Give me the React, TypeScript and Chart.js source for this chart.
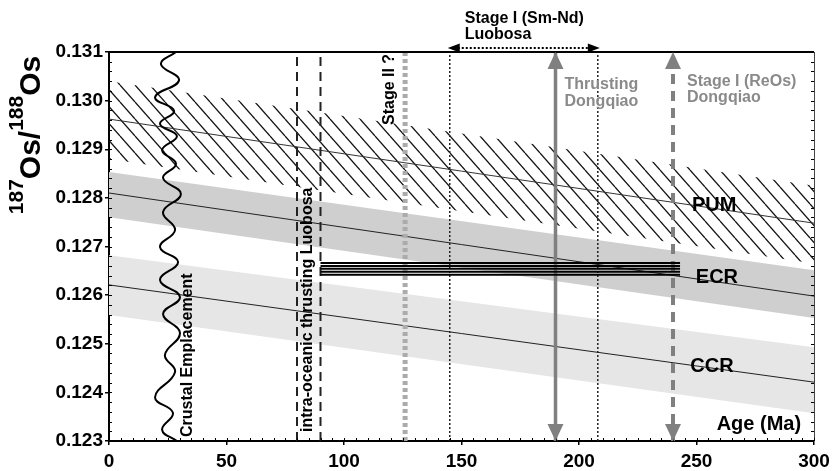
import React, { useEffect, useRef } from 'react';
import { Chart, registerables } from 'chart.js';

Chart.register(...registerables);

// ---------- data ----------
const ages = [0, 300];
const pumUpper = [0.1304, 0.12825];
const pumLower = [0.1288, 0.12665];
const pumCenter = [0.12962, 0.12748];
const ecrUpper = [0.12853, 0.12651];
const ecrLower = [0.1276, 0.12553];
const ecrCenter = [0.1281, 0.12598];
const ccrUpper = [0.12682, 0.12493];
const ccrLower = [0.12559, 0.12357];
const ccrCenter = [0.12621, 0.12421];

// Crustal emplacement wavy line (turning points)
const waveAge = [28.5, 22.1, 29.8, 19.6, 27.7, 21.7, 28.9, 22.6, 28.5, 23.0, 30.6, 23.0, 28.1, 21.7, 29.4, 21.7, 30.2, 23.0, 30.2, 23.8, 28.1, 19.6, 27.2, 22.6, 28.9];
const waveOs = [0.131, 0.13075, 0.13042, 0.13007, 0.12979, 0.12952, 0.12927, 0.12898, 0.1287, 0.12841, 0.12808, 0.12771, 0.12734, 0.12699, 0.12668, 0.12631, 0.12596, 0.12561, 0.12522, 0.12477, 0.12442, 0.1239, 0.12358, 0.12323, 0.123];

// Measured Os ratio bars
const barAges = [90, 243];
const barOs = [0.12666, 0.1266, 0.12654, 0.12648, 0.12642];

// Event ages
const intraOceanicAges = [80, 90];
const stageIIAge = 126;
const smNdAges = [145, 208];
const thrustingAge = 190;
const reOsAge = 240;

const yRange = [0.123, 0.131];
const xTicks = [0, 50, 100, 150, 200, 250, 300];
const yTicks = [0.123, 0.124, 0.125, 0.126, 0.127, 0.128, 0.129, 0.13, 0.131];

const FONT = "'Liberation Sans', Arial, Helvetica, sans-serif";

const pts = (xs: number[], ys: number[]) => xs.map((x, i) => ({ x, y: ys[i] }));
const vline = (x: number) => [{ x, y: yRange[0] }, { x, y: yRange[1] }];

export default function App() {
  const ref = useRef<HTMLCanvasElement>(null);

  useEffect(() => {
    const canvas = ref.current!;
    const tile = document.createElement('canvas');
    const tw = 15, th = 17;
    tile.width = tw; tile.height = th;
    const tctx = tile.getContext('2d')!;
    tctx.strokeStyle = '#111';
    tctx.lineWidth = 1.3;
    for (const dx of [-tw, 0, tw]) {
      tctx.beginPath();
      tctx.moveTo(dx, 0);
      tctx.lineTo(dx + tw, th);
      tctx.stroke();
    }
    const pattern = canvas.getContext('2d')!.createPattern(tile, 'repeat');

    const base = { pointRadius: 0, pointHoverRadius: 0, tension: 0, fill: false };
    const band = (data: any, color: any, fill: any) => ({
      ...base, data, borderWidth: 0, borderColor: 'rgba(0,0,0,0)', backgroundColor: color, fill, order: 20,
    });

    const datasets: any[] = [
      band(pts(ages, pumUpper), pattern, false),
      band(pts(ages, pumLower), pattern, '-1'),
      band(pts(ages, ecrUpper), '#cfcfcf', false),
      band(pts(ages, ecrLower), '#cfcfcf', '-1'),
      band(pts(ages, ccrUpper), '#e6e6e6', false),
      band(pts(ages, ccrLower), '#e6e6e6', '-1'),
      { ...base, data: pts(ages, pumCenter), borderColor: '#333', borderWidth: 1, order: 10 },
      { ...base, data: pts(ages, ecrCenter), borderColor: '#222', borderWidth: 1, order: 10 },
      { ...base, data: pts(ages, ccrCenter), borderColor: '#222', borderWidth: 1, order: 10 },
      ...intraOceanicAges.map((a) => ({ ...base, data: vline(a), borderColor: '#222', borderWidth: 2, borderDash: [9, 6], order: 5 })),
      { ...base, data: vline(stageIIAge), borderColor: '#ababab', borderWidth: 5, borderDash: [4, 3], order: 5 },
      ...smNdAges.map((a) => ({ ...base, data: vline(a), borderColor: '#222', borderWidth: 1.5, borderDash: [2, 2], order: 5 })),
      { ...base, data: vline(thrustingAge), borderColor: '#808080', borderWidth: 3.5, order: 4 },
      { ...base, data: vline(reOsAge), borderColor: '#808080', borderWidth: 4, borderDash: [10, 7], order: 4 },
      ...barOs.map((v) => ({ ...base, data: pts(barAges, [v, v]), borderColor: '#000', borderWidth: 2, order: 3 })),
      { ...base, data: pts(waveAge, waveOs), borderColor: '#000', borderWidth: 2, tension: 0.45, order: 1 },
    ];

    const overlay = {
      id: 'overlay',
      afterDatasetsDraw(chart: any) {
        const { ctx, chartArea: ca, scales } = chart;
        const X = (v: number) => scales.x.getPixelForValue(v);
        const Y = (v: number) => scales.y.getPixelForValue(v);
        ctx.save();

        // borders
        ctx.strokeStyle = '#000';
        ctx.lineWidth = 2;
        ctx.beginPath(); ctx.moveTo(ca.left - 1, ca.top); ctx.lineTo(ca.right, ca.top); ctx.stroke();
        ctx.strokeStyle = '#444';
        ctx.lineWidth = 1;
        ctx.beginPath(); ctx.moveTo(ca.right + 0.5, ca.top); ctx.lineTo(ca.right + 0.5, ca.bottom); ctx.stroke();

        // minor ticks
        ctx.strokeStyle = '#000';
        ctx.lineWidth = 1;
        for (let i = 0; i <= 40; i++) {
          const y = Math.round(Y(yRange[0] + i * 0.0002)) + 0.5;
          ctx.beginPath(); ctx.moveTo(ca.left, y); ctx.lineTo(ca.left + 3, y); ctx.stroke();
          ctx.beginPath(); ctx.moveTo(ca.right, y); ctx.lineTo(ca.right - 3, y); ctx.stroke();
        }
        for (let i = 0; i <= 60; i++) {
          const x = Math.round(X(i * 5)) + 0.5;
          ctx.beginPath(); ctx.moveTo(x, ca.bottom); ctx.lineTo(x, ca.bottom - 3); ctx.stroke();
        }

        // vertical arrowheads
        const arrowV = (x: number, tipY: number, dir: number, color: string) => {
          ctx.fillStyle = color;
          ctx.beginPath();
          ctx.moveTo(x, tipY);
          ctx.lineTo(x - 8, tipY - dir * 17);
          ctx.lineTo(x + 8, tipY - dir * 17);
          ctx.closePath();
          ctx.fill();
        };
        [thrustingAge, reOsAge].forEach((a) => {
          arrowV(X(a), ca.top, -1, '#808080');
          arrowV(X(a), ca.bottom, 1, '#808080');
        });

        // Sm-Nd horizontal arrow above the plot
        const ay = ca.top - 4;
        const x1 = X(smNdAges[0]), x2 = X(smNdAges[1]);
        ctx.strokeStyle = '#000';
        ctx.lineWidth = 2;
        ctx.setLineDash([2, 2]);
        ctx.beginPath(); ctx.moveTo(x1 + 8, ay); ctx.lineTo(x2 - 8, ay); ctx.stroke();
        ctx.setLineDash([]);
        ctx.fillStyle = '#000';
        ctx.beginPath(); ctx.moveTo(x1 - 2, ay); ctx.lineTo(x1 + 10, ay - 4.5); ctx.lineTo(x1 + 10, ay + 4.5); ctx.closePath(); ctx.fill();
        ctx.beginPath(); ctx.moveTo(x2 + 2, ay); ctx.lineTo(x2 - 10, ay - 4.5); ctx.lineTo(x2 - 10, ay + 4.5); ctx.closePath(); ctx.fill();

        // texts
        const text = (s: string, x: number, y: number, size: number, color = '#000', align: CanvasTextAlign = 'center') => {
          ctx.font = `bold ${size}px ${FONT}`;
          ctx.fillStyle = color;
          ctx.textAlign = align;
          ctx.textBaseline = 'middle';
          ctx.fillText(s, x, y);
        };
        const vtext = (s: string, x: number, yStart: number, size: number) => {
          ctx.save();
          ctx.translate(x, yStart);
          ctx.rotate(-Math.PI / 2);
          text(s, 0, 0, size, '#000', 'left');
          ctx.restore();
        };

        text('PUM', X(257.5), Y(0.12785), 20);
        text('ECR', X(258.7), Y(0.12637), 20);
        text('CCR', X(256.6), Y(0.12454), 20);
        text('Age (Ma)', X(294.5), Y(0.12333), 20, '#000', 'right');

        vtext('Crustal Emplacement', X(33.6), ca.bottom - 4, 16);
        vtext('intra-oceanic thrusting Luobosa', X(84.5), ca.bottom - 9, 16);
        vtext('Stage II ?', X(119.6), ca.top + 73, 16);

        text('Stage I (Sm-Nd)', x1 + 15, 19, 16, '#000', 'left');
        text('Luobosa', x1 + 15, 35, 16, '#000', 'left');
        const gray = '#8a8a8a';
        text('Thrusting', X(thrustingAge) + 9, ca.top + 33, 16, gray, 'left');
        text('Dongqiao', X(thrustingAge) + 9, ca.top + 50, 16, gray, 'left');
        text('Stage I (ReOs)', X(reOsAge) + 14, ca.top + 30, 16, gray, 'left');
        text('Dongqiao', X(reOsAge) + 14, ca.top + 46, 16, gray, 'left');

        // y-axis title with superscripts
        ctx.save();
        ctx.translate(40, 135);
        ctx.rotate(-Math.PI / 2);
        ctx.fillStyle = '#000';
        ctx.textBaseline = 'alphabetic';
        ctx.textAlign = 'left';
        const big = `bold 30px ${FONT}`, sup = `bold 21px ${FONT}`;
        const parts: [string, string, number][] = [
          ['187', sup, -17], ['Os', big, 0], ['/', big, 0], ['188', sup, -17], ['Os', big, 0],
        ];
        let total = 0;
        parts.forEach(([s, f]) => { ctx.font = f; total += ctx.measureText(s).width; });
        let cx = -total / 2;
        parts.forEach(([s, f, dy]) => {
          ctx.font = f;
          ctx.fillText(s, cx, dy);
          cx += ctx.measureText(s).width;
        });
        ctx.restore();

        ctx.restore();
      },
    };

    const tickFont = { family: FONT, size: 19, weight: 'bold' as const };
    const chart = new Chart(canvas, {
      type: 'line',
      data: { datasets },
      plugins: [overlay],
      options: {
        animation: false,
        responsive: false,
        maintainAspectRatio: false,
        events: [],
        layout: { padding: { top: 52, right: 23, left: 0, bottom: 0 } },
        plugins: { legend: { display: false }, tooltip: { enabled: false } },
        scales: {
          x: {
            type: 'linear',
            min: 0,
            max: 300,
            afterBuildTicks: (s: any) => { s.ticks = xTicks.map((value) => ({ value })); },
            afterFit: (s: any) => { s.height = 30; },
            ticks: { font: tickFont, color: '#000', padding: 5, maxRotation: 0, autoSkip: false },
            grid: { drawOnChartArea: false, drawTicks: true, tickLength: 4, color: '#000', lineWidth: 1.5 },
            border: { display: true, color: '#000', width: 2 },
          },
          y: {
            type: 'linear',
            min: yRange[0],
            max: yRange[1],
            afterBuildTicks: (s: any) => { s.ticks = yTicks.map((value) => ({ value })); },
            afterFit: (s: any) => { s.width = 109; },
            ticks: { font: tickFont, color: '#000', padding: 2, autoSkip: false, callback: (v: any) => Number(v).toFixed(3) },
            grid: { drawOnChartArea: false, drawTicks: true, tickLength: 4, color: '#000', lineWidth: 1.5 },
            border: { display: true, color: '#000', width: 2 },
          },
        },
      } as any,
    });
    return () => chart.destroy();
  }, []);

  return (
    <div style={{ position: 'absolute', left: 0, top: 0, width: 837, height: 471, background: '#fff' }}>
      <canvas ref={ref} width={837} height={471} style={{ width: 837, height: 471, display: 'block' }} />
    </div>
  );
}
